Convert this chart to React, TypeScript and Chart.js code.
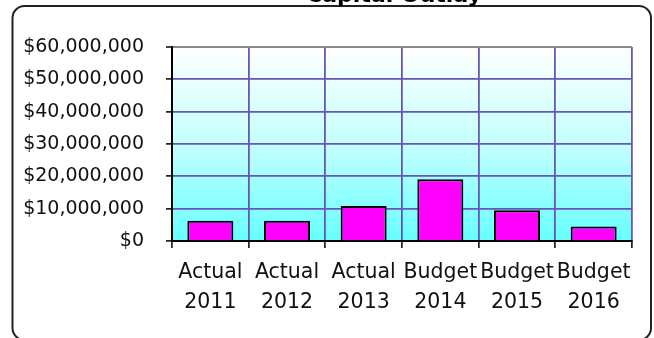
import React, { useEffect, useRef } from "react";
import { Chart, registerables } from "chart.js";

Chart.register(...registerables);

const TITLE = "Capital Outlay";
const categories: string[][] = [
  ["Actual", "2011"],
  ["Actual", "2012"],
  ["Actual", "2013"],
  ["Budget", "2014"],
  ["Budget", "2015"],
  ["Budget", "2016"],
];
const capitalOutlay: number[] = [6300000, 6300000, 10800000, 19100000, 9500000, 4500000];
const yMin = 0;
const yMax = 60000000;
const yStep = 10000000;

const FONT = "'DejaVu Sans', 'Open Sans', sans-serif";
const GRID = "#6655BB";

const framePlugin = {
  id: "frame",
  beforeDraw(chart: any) {
    const { ctx, chartArea } = chart;
    const { left, top, right, bottom } = chartArea;
    ctx.save();
    const g = ctx.createLinearGradient(0, top, 0, bottom);
    g.addColorStop(0, "#FFFFFF");
    g.addColorStop(0.5, "#C4FFFF");
    g.addColorStop(1, "#66FFFF");
    ctx.fillStyle = g;
    ctx.fillRect(left, top, right - left, bottom - top);
    ctx.restore();
  },
  afterDraw(chart: any) {
    const { ctx } = chart;
    ctx.save();
    ctx.strokeStyle = "#222222";
    ctx.lineWidth = 2;
    ctx.beginPath();
    (ctx as any).roundRect(12.5, 6, 638.5, 334, 12);
    ctx.stroke();
    ctx.fillStyle = "#000000";
    ctx.font = `bold 22px ${FONT}`;
    ctx.textAlign = "center";
    ctx.textBaseline = "alphabetic";
    ctx.fillText(TITLE, 394, 2);
    ctx.restore();
  },
};

export default function App() {
  const ref = useRef<HTMLCanvasElement>(null);
  useEffect(() => {
    if (!ref.current) return;
    const chart = new Chart(ref.current, {
      type: "bar",
      data: {
        labels: categories,
        datasets: [
          {
            data: capitalOutlay,
            backgroundColor: "#FF00FF",
            borderColor: "#000000",
            borderWidth: 2,
            barPercentage: 0.6,
            categoryPercentage: 1,
          },
        ],
      },
      options: {
        animation: false,
        responsive: false,
        devicePixelRatio: 1,
        layout: { padding: { left: 0, top: 47, right: 22, bottom: 0 } },
        plugins: { legend: { display: false }, title: { display: false }, tooltip: { enabled: false } },
        scales: {
          x: {
            afterFit: (s: any) => { s.height = 97; },
            grid: {
              offset: true,
              color: (c: any) => (c.index === categories.length ? "#888888" : GRID),
              lineWidth: 1.8,
              tickColor: "#000000",
              tickLength: 7,
              tickWidth: 1.5,
            },
            border: { color: "#000000", width: 2 },
            ticks: {
              color: "#111111",
              font: { family: FONT, size: 20.5, lineHeight: 1.45 },
              padding: 10,
              autoSkip: false,
              maxRotation: 0,
              minRotation: 0,
            },
          },
          y: {
            min: yMin,
            max: yMax,
            afterFit: (s: any) => { s.width = 172; },
            grid: {
              color: (c: any) => (c.tick && c.tick.value === yMax ? "#888888" : GRID),
              lineWidth: (c: any) => (c.tick && c.tick.value === yMax ? 2 : 1.8),
              tickColor: "#000000",
              tickLength: 6,
              tickWidth: 1.5,
            },
            border: { color: "#000000", width: 2 },
            ticks: {
              stepSize: yStep,
              color: "#111111",
              font: { family: FONT, size: 19 },
              padding: 22,
              callback: (v: any) => "$" + Number(v).toLocaleString("en-US"),
            },
          },
        },
      },
      plugins: [framePlugin],
    });
    return () => chart.destroy();
  }, []);
  return (
    <div style={{ position: "fixed", left: 0, top: 0, width: 654, height: 338, background: "#fff" }}>
      <canvas ref={ref} width={654} height={338} style={{ width: 654, height: 338, display: "block" }} />
    </div>
  );
}
